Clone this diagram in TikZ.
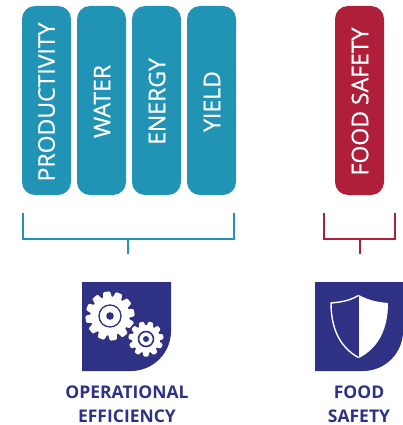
\documentclass[tikz,border=0pt]{standalone}
\usepackage{fontspec}
\setmainfont{Open Sans}
\definecolor{teal1}{HTML}{2193B5}
\definecolor{red1}{HTML}{B01F3A}
\definecolor{navy1}{HTML}{2F3184}
\tikzset{
  pillar/.style={rounded corners=13pt,minimum width=49pt,minimum height=189pt,inner sep=0pt,draw=none},
  pillartext/.style={rotate=90,text=white,font=\fontsize{23}{26}\selectfont\addfontfeature{FakeBold=0.6}},
  caption/.style={text=navy1,font=\fontsize{17.5}{24}\selectfont\bfseries,align=center,inner sep=0pt,text depth=0pt},
  bracket/.style={line width=2pt,line cap=butt},
}
\newcommand{\mygear}[4]{% x y outer-radius teeth
  \fill[white] (#1,#2) circle ({#3*0.8});
  \foreach \a in {1,...,#4}{
    \fill[white,rounded corners=1pt,shift={(#1,#2)},rotate={\a*360/#4+8}]
      ({#3*0.7},{-#3*0.19}) -- ({#3},{-#3*0.14}) -- ({#3},{#3*0.14}) -- ({#3*0.7},{#3*0.19}) -- cycle;
  }
}
\begin{document}
\begin{tikzpicture}[x=1pt,y=-1pt]
\useasboundingbox (0,0) rectangle (403,425);
% pillars
\node[pillar,fill=teal1] (p1) at (46.5,100.5) {};
\node[pillar,fill=teal1] (p2) at (101.5,100.5) {};
\node[pillar,fill=teal1] (p3) at (156.5,100.5) {};
\node[pillar,fill=teal1] (p4) at (211.5,100.5) {};
\node[pillar,fill=red1] (p5) at (359.5,100.5) {};
\node[pillartext] (t1) at (46.5,102) {PRODUCTIVITY};
\node[pillartext] (t2) at (102,101.5) {WATER};
\node[pillartext] (t3) at (157,101.5) {ENERGY};
\node[pillartext] (t4) at (212,101.5) {YIELD};
\node[pillartext] (t5) at (360,101.5) {FOOD SAFETY};
% brackets
\coordinate (a1) at (23,213); \coordinate (a2) at (23,238.5);
\coordinate (a3) at (234,238.5); \coordinate (a4) at (234,213);
\coordinate (a5) at (128,238.5); \coordinate (a6) at (128,254);
\draw[bracket,teal1] (a1) -- (a2) -- (a3) -- (a4);
\draw[bracket,teal1] (a5) -- (a6);
\coordinate (b1) at (324,213); \coordinate (b2) at (324,238.5);
\coordinate (b3) at (395,238.5); \coordinate (b4) at (395,213);
\coordinate (b5) at (359.5,238.5); \coordinate (b6) at (359.5,254);
\draw[bracket,red1] (b1) -- (b2) -- (b3) -- (b4);
\draw[bracket,red1] (b5) -- (b6);
% left icon
\fill[navy1] (82,282) -- (171,282) -- (171,331) arc[start angle=0,end angle=90,x radius=40pt,y radius=-40pt] -- (82,371) -- cycle;
\mygear{110}{316}{24.5}{12}
\draw[navy1,line width=1.3pt] (110,316) circle (11);
\fill[navy1] (110,316) circle (3.8);
\fill[navy1] (146,339) circle (19.5);
\mygear{146}{339}{17.5}{11}
\draw[navy1,line width=1.6pt] (146,339) circle (7.5);
\fill[navy1] (146,339) circle (3);
% right icon
\fill[navy1] (315,282) -- (403,282) -- (403,331) arc[start angle=0,end angle=90,x radius=40pt,y radius=-40pt] -- (315,371) -- cycle;
\fill[white] (359,295) .. controls (370,301) and (378,302) .. (388,303) .. controls (388,330) and (378,348) .. (359,358) -- cycle;
\draw[white,line width=1.4pt,line join=miter] (358.5,295.5) .. controls (349,301) and (341,302) .. (331,303) .. controls (331,330) and (341,348) .. (358.5,357.5);
% captions
\node[caption] (c1) at (127,404) {OPERATIONAL\\EFFICIENCY};
\node[caption] (c2) at (359,404) {FOOD\\SAFETY};
\end{tikzpicture}
\end{document}
